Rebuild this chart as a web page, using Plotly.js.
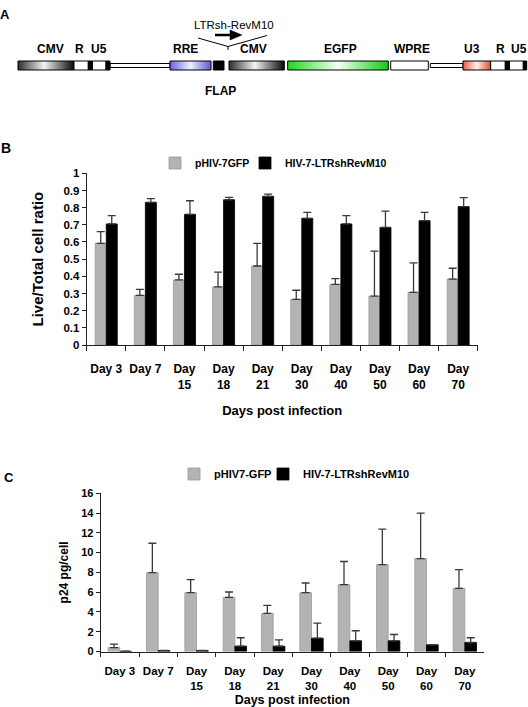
<!DOCTYPE html>
<html><head><meta charset="utf-8">
<script src="https://cdn.plot.ly/plotly-3.0.1.min.js"></script>
<style>html,body{margin:0;padding:0;background:#fff}#chart{width:528px;height:707px}</style>
</head><body><div id="chart"></div>
<script>
// ---------- data ----------
const days = ['Day 3','Day 7','Day 15','Day 18','Day 21','Day 30','Day 40','Day 50','Day 60','Day 70'];
const dayTickLabels = ['Day 3','Day 7','Day<br>15','Day<br>18','Day<br>21','Day<br>30','Day<br>40','Day<br>50','Day<br>60','Day<br>70'];

// Panel B: live/total cell ratio
const viabilityGFP    = [0.592, 0.289, 0.379, 0.338, 0.460, 0.266, 0.353, 0.285, 0.307, 0.384];
const viabilityGFPErr = [0.068, 0.035, 0.033, 0.087, 0.132, 0.053, 0.033, 0.262, 0.171, 0.063];
const viabilityRev    = [0.705, 0.831, 0.761, 0.846, 0.866, 0.738, 0.705, 0.685, 0.724, 0.806];
const viabilityRevErr = [0.048, 0.021, 0.079, 0.014, 0.013, 0.035, 0.048, 0.095, 0.049, 0.052];

// Panel C: p24 pg/cell
const p24GFP    = [0.40, 7.98, 5.95, 5.48, 3.85, 5.95, 6.76, 8.79, 9.40, 6.39];
const p24GFPErr = [0.35, 2.97, 1.32, 0.54, 0.82, 0.98, 2.34, 3.58, 4.60, 1.89];
const p24Rev    = [0.03, 0.10, 0.10, 0.54, 0.54, 1.35, 1.08, 1.08, 0.68, 0.91];
const p24RevErr = [0, 0, 0, 0.85, 0.64, 1.52, 1.02, 0.64, 0, 0.48];

// Panel A: vector map elements (map units along the construct)
const gradNames = ['CMV','RRE','CMV','EGFP','U3'];
const gradStart = [18, 170, 229, 287.7, 463];
const gradEnd   = [74, 211, 284.3, 388.3, 490.7];
const whiteNames = ['R','U5','WPRE','R','U5'];
const whiteStart = [74, 92.3, 390.7, 490.7, 509.3];
const whiteEnd   = [88.3, 106, 428.3, 505.3, 523.3];
const blackStart = [88.3, 106, 213.3, 505.3, 523.3];
const blackEnd   = [92.3, 110, 224, 509.3, 526.7];
const linkStart = [110, 430.3];
const linkEnd   = [170, 463];
const mapLabels  = ['CMV','R','U5','RRE','CMV','EGFP','WPRE','U3','R','U5'];
const mapLabelAt = [50, 79, 99, 185, 253, 340, 411.7, 471.7, 500, 518.7];

// ---------- styling helpers ----------
const W = 528, H = 707;
const FONT = 'Liberation Sans, Arial, Helvetica, sans-serif';
const fx = p => p / W;
const fy = p => 1 - p / H;
const zeros = days.map(() => 0);
const gradScales = {
  'CMV':  [[0,'#2e2e2e'],[0.47,'#f4f4f4'],[1,'#080808']],
  'RRE':  [[0,'#6464e4'],[0.5,'#f0f0ff'],[1,'#5858d8']],
  'EGFP': [[0,'#1ed81e'],[0.5,'#f6fff6'],[1,'#10cc10']],
  'U3':   [[0,'#e65e3c'],[0.5,'#fff2ec'],[1,'#de5030']]
};

const traces = [];

// Panel B bars
traces.push({
  type:'bar', x: days, y: viabilityGFP, name:'pHIV-7GFP', xaxis:'x', yaxis:'y', legend:'legend',
  offset:-0.282, width:0.282,
  marker:{color:'#b3b3b3', line:{color:'#9a9a9a', width:0.8}},
  error_y:{type:'data', symmetric:false, array:viabilityGFPErr, arrayminus:zeros, color:'#3a3a3a', thickness:1.3, width:4},
  hoverinfo:'skip'
});
traces.push({
  type:'bar', x: days, y: viabilityRev, name:'HIV-7-LTRshRevM10', xaxis:'x', yaxis:'y', legend:'legend2',
  offset:0, width:0.282,
  marker:{color:'#000000', line:{color:'#000', width:0.8}},
  error_y:{type:'data', symmetric:false, array:viabilityRevErr, arrayminus:zeros, color:'#3a3a3a', thickness:1.3, width:4},
  hoverinfo:'skip'
});
// Panel C bars
traces.push({
  type:'bar', x: days, y: p24GFP, name:'pHIV7-GFP', xaxis:'x2', yaxis:'y2', legend:'legend3',
  offset:-0.305, width:0.305,
  marker:{color:'#b3b3b3', line:{color:'#9a9a9a', width:0.8}},
  error_y:{type:'data', symmetric:false, array:p24GFPErr, arrayminus:zeros, color:'#3a3a3a', thickness:1.3, width:4},
  hoverinfo:'skip'
});
traces.push({
  type:'bar', x: days, y: p24Rev, name:'HIV-7-LTRshRevM10', xaxis:'x2', yaxis:'y2', legend:'legend4',
  offset:0, width:0.305,
  marker:{color:'#000000', line:{color:'#000', width:0.8}},
  error_y:{type:'data', symmetric:false, array:p24RevErr, arrayminus:zeros, color:'#3a3a3a', thickness:1.3, width:4},
  hoverinfo:'skip'
});

// Panel A schematic
const BOX_T = 61, BOX_B = 70, LNK_T = 63.5, LNK_B = 67.5;
function boxTrace(s, e, t, b, extra) {
  return Object.assign({
    type:'scatter', mode:'lines', xaxis:'x3', yaxis:'y3',
    x:[s, e, e, s, s], y:[t, t, b, b, t], fill:'toself',
    line:{color:'#000', width:1}, showlegend:false, hoverinfo:'skip'
  }, extra);
}
linkStart.forEach((s, i) => traces.push(boxTrace(s, linkEnd[i], LNK_T, LNK_B, {fillcolor:'#ffffff'})));
gradStart.forEach((s, i) => traces.push(boxTrace(s, gradEnd[i], BOX_T, BOX_B,
  {fillgradient:{type:'horizontal', colorscale: gradScales[gradNames[i]]}})));
whiteStart.forEach((s, i) => traces.push(boxTrace(s, whiteEnd[i], BOX_T, BOX_B, {fillcolor:'#ffffff'})));
blackStart.forEach((s, i) => traces.push(boxTrace(s, blackEnd[i], BOX_T, BOX_B, {fillcolor:'#000000'})));
// insertion marker and promoter arrow
traces.push({type:'scatter', mode:'lines', xaxis:'x3', yaxis:'y3', x:[198, 228, 267], y:[38, 46.5, 35.5],
  line:{color:'#000', width:1}, showlegend:false, hoverinfo:'skip'});
traces.push({type:'scatter', mode:'lines', xaxis:'x3', yaxis:'y3', x:[228, 228], y:[46.5, 50],
  line:{color:'#000', width:1}, showlegend:false, hoverinfo:'skip'});
traces.push({type:'scatter', mode:'lines', xaxis:'x3', yaxis:'y3', x:[215, 231], y:[35, 35],
  line:{color:'#000', width:2.5}, showlegend:false, hoverinfo:'skip'});
traces.push({type:'scatter', mode:'lines', xaxis:'x3', yaxis:'y3', x:[230, 242, 230, 230], y:[30, 35, 40, 30],
  fill:'toself', fillcolor:'#000', line:{color:'#000', width:0.5}, showlegend:false, hoverinfo:'skip'});

// ---------- annotations ----------
const ann = [];
mapLabels.forEach((t, i) => ann.push({xref:'x3', yref:'y3', x: mapLabelAt[i], y: 49, text: t, showarrow:false,
  font:{family:FONT, size:12, color:'#000', weight:'bold'}, xanchor:'center', yanchor:'middle'}));
ann.push({xref:'x3', yref:'y3', x:220, y:91, text:'FLAP', showarrow:false,
  font:{family:FONT, size:12, color:'#000', weight:'bold'}});
ann.push({xref:'x3', yref:'y3', x:234, y:25, text:'LTRsh-RevM10', showarrow:false,
  font:{family:FONT, size:11.5, color:'#000'}});
[['A',5,15,13],['B',6,148,14],['C',9,477,13]].forEach(a => ann.push({
  xref:'paper', yref:'paper', x: fx(a[1]), y: fy(a[2]), text:a[0], showarrow:false,
  xanchor:'center', yanchor:'middle', font:{family:FONT, size:a[3], color:'#000', weight:'bold'}}));

const axisCommon = {showline:true, linecolor:'#222', linewidth:1, ticks:'outside', tickcolor:'#222',
  showgrid:false, zeroline:false, fixedrange:true};

function legendAt(px, py, size) {
  return {orientation:'h', x:fx(px), xanchor:'left', y:fy(py), yanchor:'middle',
    font:{family:FONT, size:size, weight:'bold'}, bgcolor:'rgba(0,0,0,0)', borderwidth:0,
    itemclick:false, itemdoubleclick:false};
}

const layout = {
  width:W, height:H, margin:{l:0, r:0, t:0, b:0},
  paper_bgcolor:'#fff', plot_bgcolor:'rgba(0,0,0,0)',
  font:{family:FONT, color:'#000'},
  barmode:'group',
  xaxis: Object.assign({}, axisCommon, {
    domain:[fx(86.7), fx(477.7)], anchor:'y', type:'category', tickangle:0,
    tickson:'boundaries', ticklen:5, tickvals:days, ticktext:dayTickLabels, ticklabelstandoff:13,
    tickfont:{family:FONT, size:12, weight:'bold'},
    title:{text:'Days post infection', font:{family:FONT, size:13, weight:'bold'}, standoff:14}
  }),
  yaxis: Object.assign({}, axisCommon, {
    domain:[fy(345), fy(173.3)], anchor:'x', range:[0,1], dtick:0.1, ticklen:4,
    tickfont:{family:FONT, size:11.5, weight:'bold'},
    title:{text:'Live/Total cell ratio', font:{family:FONT, size:15, weight:'bold'}, standoff:16}
  }),
  xaxis2: Object.assign({}, axisCommon, {
    domain:[fx(100.7), fx(484)], anchor:'y2', type:'category', tickangle:0,
    tickson:'boundaries', ticklen:4, tickvals:days, ticktext:dayTickLabels, ticklabelstandoff:9,
    tickfont:{family:FONT, size:11.5, weight:'bold'},
    title:{text:'Days post infection', font:{family:FONT, size:12.5, weight:'bold'}, standoff:11}
  }),
  yaxis2: Object.assign({}, axisCommon, {
    domain:[fy(651.5), fy(493.3)], anchor:'x2', range:[0,16], dtick:2, ticklen:4,
    tickfont:{family:FONT, size:11, weight:'bold'},
    title:{text:'p24 pg/cell', font:{family:FONT, size:12, weight:'bold'}, standoff:10}
  }),
  xaxis3: {domain:[0,1], anchor:'y3', range:[0,W], visible:false, fixedrange:true},
  yaxis3: {domain:[fy(107), 1], anchor:'x3', range:[107,0], visible:false, fixedrange:true},
  legend:  legendAt(155, 163, 10.5),
  legend2: legendAt(245, 163, 10.5),
  legend3: legendAt(174, 474, 11),
  legend4: legendAt(263, 474, 11),
  annotations: ann,
  showlegend:true
};

Plotly.newPlot('chart', traces, layout, {displayModeBar:false, staticPlot:true});
</script>
</body></html>
